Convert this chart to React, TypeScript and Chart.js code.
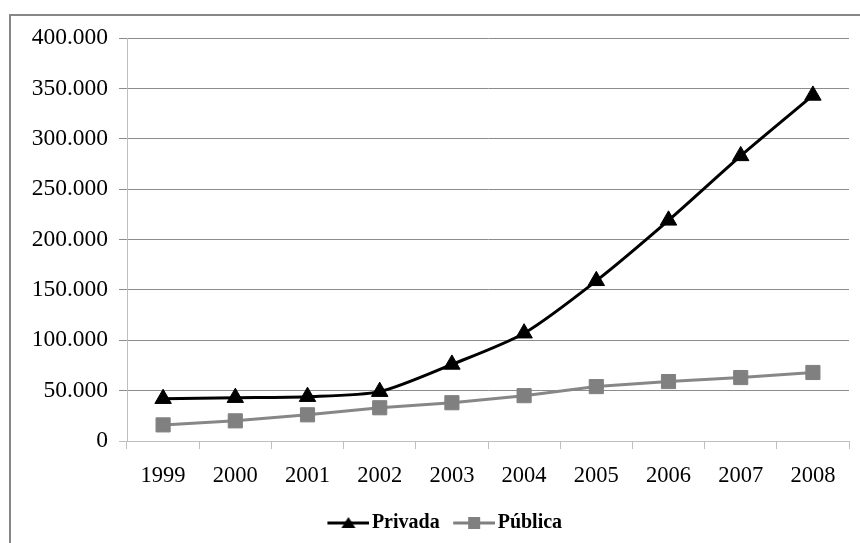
import React, { useEffect, useRef } from 'react';
import { Chart, registerables } from 'chart.js';

Chart.register(...registerables);

const years = ['1999', '2000', '2001', '2002', '2003', '2004', '2005', '2006', '2007', '2008'];
const privada = [42000, 43000, 44000, 49000, 76000, 107000, 159000, 219000, 283000, 343000];
const publica = [16000, 20000, 26000, 33000, 38000, 45000, 54000, 59000, 63000, 68000];
const seriesNames = ['Privada', 'Pública'];
const yMin = 0;
const yMax = 400000;
const yStep = 50000;

const FONT = "'Liberation Serif', 'Times New Roman', serif";

function fmt(v: number): string {
  return String(Math.round(v)).replace(/\B(?=(\d{3})+(?!\d))/g, '.');
}

function makeLegendIcon(kind: 'triangle' | 'rect', color: string): HTMLCanvasElement {
  const c = document.createElement('canvas');
  const W = 59;
  const H = 16;
  c.width = W;
  c.height = H;
  const ctx = c.getContext('2d')!;
  const start = 17;
  ctx.strokeStyle = color;
  ctx.lineWidth = 3;
  ctx.beginPath();
  ctx.moveTo(start, H / 2);
  ctx.lineTo(W, H / 2);
  ctx.stroke();
  ctx.fillStyle = color;
  const cx = start + (W - start) / 2;
  if (kind === 'triangle') {
    ctx.beginPath();
    ctx.moveTo(cx, H / 2 - 6);
    ctx.lineTo(cx + 7, H / 2 + 5);
    ctx.lineTo(cx - 7, H / 2 + 5);
    ctx.closePath();
    ctx.fill();
  } else {
    ctx.fillRect(cx - 6, H / 2 - 6, 12, 12);
  }
  return c;
}

export default function App() {
  const ref = useRef<HTMLCanvasElement | null>(null);

  useEffect(() => {
    if (!ref.current) return;
    const iconPriv = makeLegendIcon('triangle', '#000000');
    const iconPub = makeLegendIcon('rect', '#808080');
    const chart = new Chart(ref.current, {
      type: 'line',
      data: {
        labels: years,
        datasets: [
          {
            label: seriesNames[0],
            data: privada,
            borderColor: '#000000',
            backgroundColor: '#000000',
            borderWidth: 3,
            tension: 0.25,
            pointStyle: 'triangle',
            pointRadius: 9.5,
            pointBorderWidth: 1,
            pointBackgroundColor: '#000000',
            pointBorderColor: '#000000',
            fill: false,
          },
          {
            label: seriesNames[1],
            data: publica,
            borderColor: '#878787',
            backgroundColor: '#808080',
            borderWidth: 3,
            tension: 0,
            pointStyle: 'rect',
            pointRadius: 10,
            pointBorderWidth: 1,
            pointBackgroundColor: '#808080',
            pointBorderColor: '#808080',
            fill: false,
          },
        ],
      },
      options: {
        responsive: false,
        animation: false,
        devicePixelRatio: 1,
        layout: { padding: { left: 27, right: 7, top: 38, bottom: 0 } },
        scales: {
          x: {
            offset: true,
            grid: {
              display: true,
              drawOnChartArea: false,
              drawTicks: true,
              tickLength: 8,
              offset: true,
              color: '#bfbfbf',
            },
            border: { display: true, color: '#bfbfbf', width: 1 },
            ticks: {
              font: { family: FONT, size: 22.5 },
              color: '#000000',
              padding: 14,
              maxRotation: 0,
              autoSkip: false,
            },
            afterFit: (scale: any) => {
              scale.height = 68;
            },
          },
          y: {
            min: yMin,
            max: yMax,
            grid: {
              color: (ctx: any) => (ctx.tick && ctx.tick.value === 0 ? '#bfbfbf' : '#8c8c8c'),
              drawTicks: true,
              tickLength: 8,
            },
            border: { display: true, color: '#bfbfbf', width: 1 },
            ticks: {
              stepSize: yStep,
              font: { family: FONT, size: 23.5 },
              color: '#000000',
              padding: 11,
              callback: (v: any) => fmt(Number(v)),
            },
            afterFit: (scale: any) => {
              scale.width = 100;
            },
          },
        },
        plugins: {
          tooltip: { enabled: false },
          legend: {
            display: true,
            position: 'bottom',
            align: 'center',
            labels: {
              usePointStyle: true,
              pointStyleWidth: 44,
              boxHeight: 16,
              padding: 4,
              color: '#000000',
              font: { family: FONT, size: 20, weight: 'bold' },
              generateLabels: () => [
                {
                  text: seriesNames[0],
                  pointStyle: iconPriv as any,
                  fillStyle: '#000000',
                  strokeStyle: '#000000',
                  lineWidth: 0,
                  hidden: false,
                  datasetIndex: 0,
                  fontColor: '#000000',
                },
                {
                  text: seriesNames[1],
                  pointStyle: iconPub as any,
                  fillStyle: '#808080',
                  strokeStyle: '#808080',
                  lineWidth: 0,
                  hidden: false,
                  datasetIndex: 1,
                  fontColor: '#000000',
                },
              ],
            },
          },
        },
      } as any,
    });
    return () => chart.destroy();
  }, []);

  return (
    <div
      style={{
        position: 'absolute',
        left: 0,
        top: 0,
        width: 860,
        height: 543,
        overflow: 'hidden',
        background: '#ffffff',
      }}
    >
      <div
        style={{
          position: 'absolute',
          left: 9,
          top: 14,
          width: 1000,
          height: 1000,
          border: '2px solid #878787',
          boxSizing: 'border-box',
        }}
      />
      <canvas
        ref={ref}
        width={860}
        height={543}
        style={{ position: 'absolute', left: 0, top: 0, width: 860, height: 543 }}
      />
    </div>
  );
}
